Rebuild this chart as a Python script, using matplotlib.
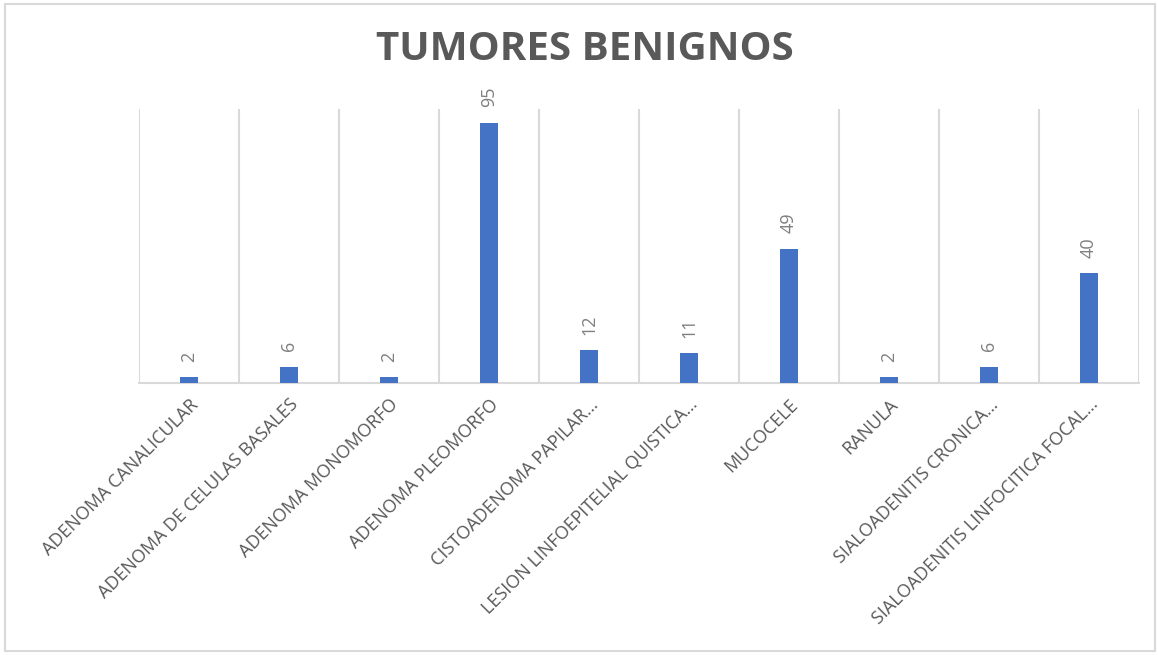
import numpy as np
import matplotlib
matplotlib.use("Agg")
import matplotlib.pyplot as plt
from matplotlib.patches import Rectangle

# data
categories = [
    "ADENOMA CANALICULAR",
    "ADENOMA DE CELULAS BASALES",
    "ADENOMA MONOMORFO",
    "ADENOMA PLEOMORFO",
    "CISTOADENOMA PAPILAR…",
    "LESION LINFOEPITELIAL QUISTICA…",
    "MUCOCELE",
    "RANULA",
    "SIALOADENITIS CRONICA…",
    "SIALOADENITIS LINFOCITICA FOCAL…",
]
values = [2, 6, 2, 95, 12, 11, 49, 2, 6, 40]

bar_color = "#4472C4"
grid_color = "#d9d9d9"
text_color = "#595959"
label_color = "#7f7f7f"

plt.rcParams["font.family"] = ["Open Sans", "DejaVu Sans"]

fig = plt.figure(figsize=(11.58, 6.55), dpi=100)
ax = fig.add_axes([0.12, 0.4153, 0.8636, 0.4183])

x = np.arange(len(categories))
ax.bar(x, values, width=0.18, color=bar_color, zorder=3)

# value labels, rotated like the Excel data labels
for xi, v in zip(x, values):
    ax.annotate(str(v), (xi, v), xytext=(0, 11), textcoords="offset points",
                rotation=90, ha="center", va="bottom", fontsize=13,
                color=label_color)

ax.set_xlim(-0.5, len(categories) - 0.5)
ax.set_ylim(0, 100)

# vertical separators between categories
ax.set_xticks(np.arange(-0.5, len(categories), 1), minor=True)
ax.grid(which="minor", axis="x", color=grid_color, linewidth=1.5, zorder=0)
ax.tick_params(which="both", length=0)
ax.set_yticks([])

ax.set_xticks(x)
ax.set_xticklabels(categories, rotation=45, ha="right", rotation_mode="anchor",
                   fontsize=13, color=text_color)
ax.tick_params(axis="x", pad=9)

for side in ["top", "left", "right"]:
    ax.spines[side].set_visible(False)
ax.spines["bottom"].set_color(grid_color)
ax.spines["bottom"].set_linewidth(1.5)

fig.text(0.505, 0.924, "TUMORES BENIGNOS", ha="center", va="center",
         fontsize=29, fontweight="bold", color=text_color)

# light frame around the chart area
fig.patches.append(Rectangle((0.004, 0.006), 0.993, 0.988, transform=fig.transFigure,
                             fill=False, edgecolor=grid_color, linewidth=1.5))

fig.savefig("out.png", dpi=100)
